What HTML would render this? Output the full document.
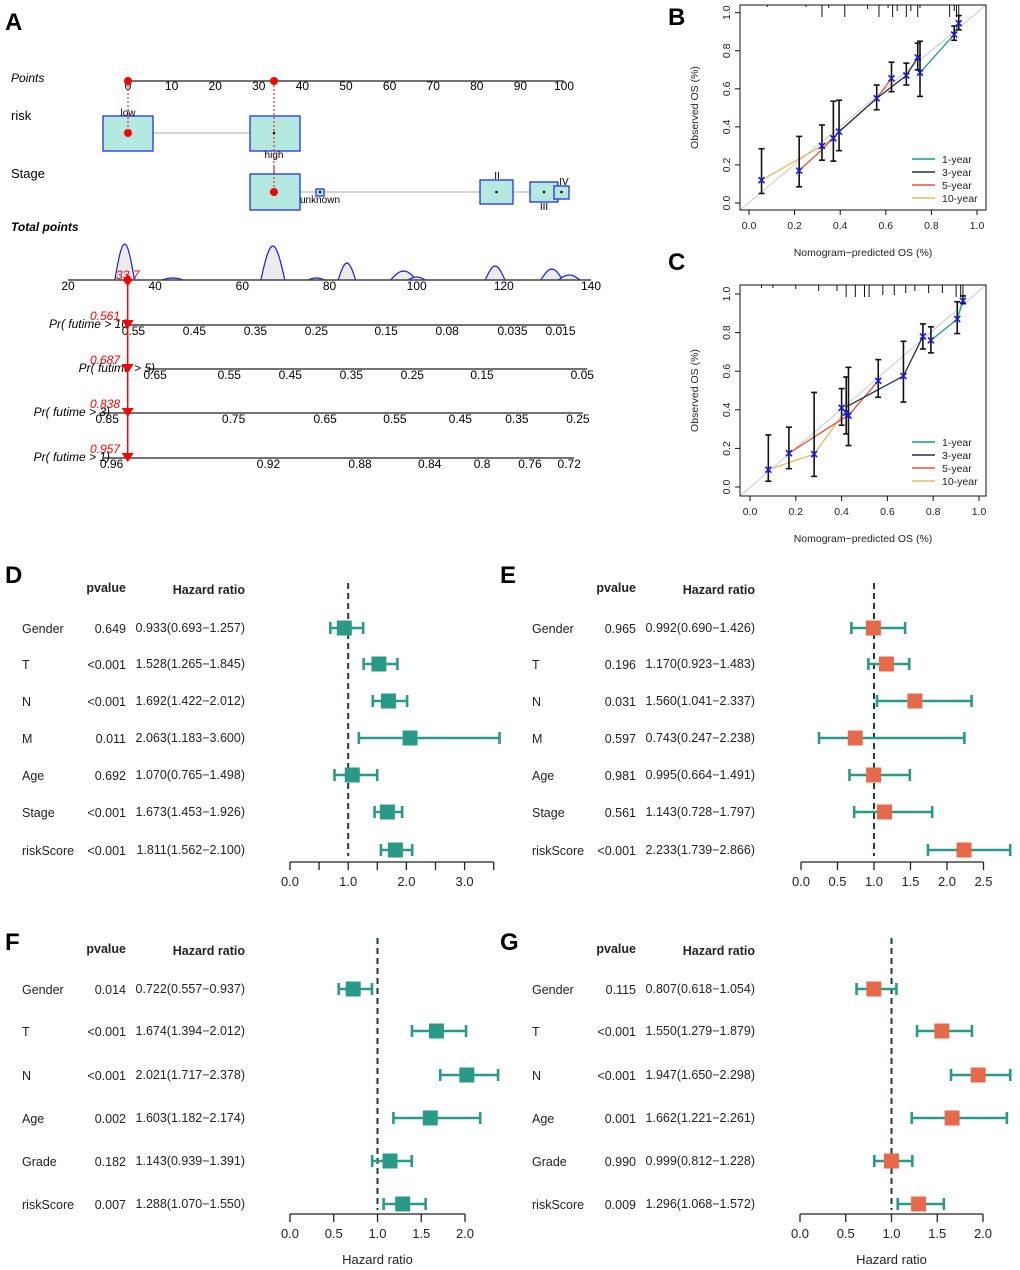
<!DOCTYPE html>
<html><head><meta charset="utf-8"><style>
html,body{margin:0;padding:0;background:#fff;}
svg{display:block;font-family:"Liberation Sans",Arial,sans-serif;}
</style></head><body>
<svg id="fig" width="1020" height="1270" viewBox="0 0 1020 1270" xmlns="http://www.w3.org/2000/svg">
<g font-weight="bold" font-size="24" fill="#000">
<text x="5" y="30">A</text>
<text x="668" y="25">B</text>
<text x="668" y="270">C</text>
<text x="5" y="583">D</text>
<text x="500" y="583">E</text>
<text x="5" y="950">F</text>
<text x="500" y="950">G</text>
</g>
<g id="nomo"></g>
<g id="calB"></g>
<g id="calC"></g>
<g id="fD"></g>
<g id="fE"></g>
<g id="fF"></g>
<g id="fG"></g>
</svg>
<script>
// ---------- Nomogram data ----------
const pointTicks=[0,10,20,30,40,50,60,70,80,90,100];
const totalTicks=[20,40,60,80,100,120,140];
const humpCenters=[33,44,67,77,84,97,100,118,131,135];
const humpHeights=[36,2,34,2,17,9,3,14,11,5];
const humpWidths=[4.5,5,5.5,4,4,6,4,4.5,5,5];
const pr10Labels=["0.55","0.45","0.35","0.25","0.15","0.08","0.035","0.015"];
const pr10Pts=[35,49,63,77,93,107,122,133];
const pr5Labels=["0.65","0.55","0.45","0.35","0.25","0.15","0.05"];
const pr5Pts=[40,57,71,85,99,115,138];
const pr3Labels=["0.85","0.75","0.65","0.55","0.45","0.35","0.25"];
const pr3Pts=[29,58,79,95,110,123,137];
const pr1Labels=["0.96","0.92","0.88","0.84","0.8","0.76","0.72"];
const pr1Pts=[30,66,87,103,115,126,135];
const predTotal=[33.7];
const predProbs=["0.561","0.687","0.838","0.957"];

// ---------- Calibration B ----------
const bX=[0.055,0.22,0.32,0.37,0.395,0.56,0.625,0.69,0.74,0.75,0.90,0.92];
const bY=[0.12,0.17,0.30,0.34,0.375,0.55,0.655,0.67,0.765,0.685,0.885,0.945];
const bLo=[0.05,0.085,0.225,0.22,0.275,0.49,0.585,0.62,0.70,0.56,0.855,0.91];
const bHi=[0.285,0.35,0.41,0.535,0.54,0.62,0.74,0.735,0.84,0.85,0.93,0.985];
const b10x=[0.055,0.32,0.37],b10y=[0.12,0.30,0.34];
const b5x=[0.22,0.32,0.395,0.56,0.625],b5y=[0.17,0.28,0.375,0.55,0.655];
const b3x=[0.395,0.56,0.69,0.74],b3y=[0.375,0.55,0.67,0.765];
const b1x=[0.75,0.90,0.92],b1y=[0.685,0.885,0.945];
const bRug=[0.08,0.25,0.32,0.35,0.42,0.52,0.57,0.61,0.63,0.65,0.69,0.71,0.74,0.75,0.88,0.9,0.91,0.92];
const bRugLen=[2,2,12,3,12,4,12,3,12,6,12,6,12,3,12,6,12,12];
// ---------- Calibration C ----------
const cX=[0.08,0.17,0.28,0.40,0.42,0.43,0.56,0.67,0.755,0.79,0.905,0.93];
const cY=[0.09,0.175,0.17,0.41,0.385,0.37,0.55,0.575,0.78,0.76,0.87,0.965];
const cLo=[0.03,0.095,0.055,0.32,0.275,0.215,0.465,0.44,0.715,0.695,0.795,0.95];
const cHi=[0.27,0.31,0.49,0.51,0.57,0.62,0.66,0.755,0.845,0.83,0.96,0.99];
const c10x=[0.08,0.28,0.42],c10y=[0.09,0.17,0.40];
const c5x=[0.17,0.40,0.43,0.56],c5y=[0.175,0.35,0.37,0.55];
const c3x=[0.42,0.67,0.755],c3y=[0.415,0.575,0.78];
const c1x=[0.79,0.905,0.93],c1y=[0.76,0.87,0.965];
const cRug=[0.05,0.1,0.2,0.3,0.38,0.42,0.46,0.5,0.52,0.58,0.63,0.68,0.72,0.78,0.84,0.9,0.92,0.93];
const cRugLen=[3,3,4,6,6,12,12,12,12,10,10,8,6,8,8,12,12,12];
const legendYears=["1-year","3-year","5-year","10-year"];

// ---------- Forest data ----------
const dVars=["Gender","T","N","M","Age","Stage","riskScore"];
const dP=["0.649","<0.001","<0.001","0.011","0.692","<0.001","<0.001"];
const dHR=[0.933,1.528,1.692,2.063,1.070,1.673,1.811];
const dLo=[0.693,1.265,1.422,1.183,0.765,1.453,1.562];
const dHi=[1.257,1.845,2.012,3.600,1.498,1.926,2.100];
const dTicks=[0,0.5,1,1.5,2,2.5,3,3.5];
const dTickLabels=["0.0","","1.0","","2.0","","3.0",""];
const eVars=["Gender","T","N","M","Age","Stage","riskScore"];
const eP=["0.965","0.196","0.031","0.597","0.981","0.561","<0.001"];
const eHR=[0.992,1.170,1.560,0.743,0.995,1.143,2.233];
const eLo=[0.690,0.923,1.041,0.247,0.664,0.728,1.739];
const eHi=[1.426,1.483,2.337,2.238,1.491,1.797,2.866];
const eTicks=[0,0.5,1,1.5,2,2.5];
const eTickLabels=["0.0","0.5","1.0","1.5","2.0","2.5"];
const fVars=["Gender","T","N","Age","Grade","riskScore"];
const fP=["0.014","<0.001","<0.001","0.002","0.182","0.007"];
const fHR=[0.722,1.674,2.021,1.603,1.143,1.288];
const fLo=[0.557,1.394,1.717,1.182,0.939,1.070];
const fHi=[0.937,2.012,2.378,2.174,1.391,1.550];
const fTicks=[0,0.5,1,1.5,2];
const fTickLabels=["0.0","0.5","1.0","1.5","2.0"];
const gVars=["Gender","T","N","Age","Grade","riskScore"];
const gP=["0.115","<0.001","<0.001","0.001","0.990","0.009"];
const gHR=[0.807,1.550,1.947,1.662,0.999,1.296];
const gLo=[0.618,1.279,1.650,1.221,0.812,1.068];
const gHi=[1.054,1.879,2.298,2.261,1.228,1.572];
const gTicks=[0,0.5,1,1.5,2];
const gTickLabels=["0.0","0.5","1.0","1.5","2.0"];

const NS="http://www.w3.org/2000/svg";
function mk(parent,tag,attrs,txt){const e=document.createElementNS(NS,tag);for(const k in attrs)e.setAttribute(k,attrs[k]);if(txt!==undefined)e.textContent=txt;parent.appendChild(e);return e;}
function fmt(v){return v.toFixed(3);}

// ===== Nomogram =====
(function(){
const g=document.getElementById('nomo');
const px=p=>128+p*4.36;
const tx=t=>68+(t-20)*(523/120);
let e;
e=mk(g,'text',{x:11,y:82,'font-size':12,'font-style':'italic'},'Points');


mk(g,'line',{x1:px(0),x2:px(100),y1:81,y2:81,stroke:'#444','stroke-width':1.5});
pointTicks.forEach(t=>{const l=mk(g,'text',{x:px(t),y:90,'font-size':12,'text-anchor':'middle'},String(t));

});
e=mk(g,'text',{x:11,y:120,'font-size':13},'risk');


mk(g,'line',{x1:153,x2:250,y1:133,y2:133,stroke:'#bbb','stroke-width':1.2});
[[103,116,50,35],[250,116,50,35]].forEach(b=>{const r=mk(g,'rect',{x:b[0],y:b[1],width:b[2],height:b[3],fill:'#b3e9df',stroke:'#2233dd','stroke-width':1.3});

});
mk(g,'text',{x:128,y:116,'font-size':10,'text-anchor':'middle'},'low');
mk(g,'text',{x:274,y:158,'font-size':10,'text-anchor':'middle'},'high');
mk(g,'circle',{cx:274,cy:133,r:1.3,fill:'#000'});
e=mk(g,'text',{x:11,y:178,'font-size':13},'Stage');


mk(g,'line',{x1:300,x2:533,y1:192,y2:192,stroke:'#bbb','stroke-width':1.2});
[[250,174,50,36],[316,189,8,7],[480,180,33,24],[530,182,28,20],[554,186,15,13]].forEach(b=>{const r=mk(g,'rect',{x:b[0],y:b[1],width:b[2],height:b[3],fill:'#b3e9df',stroke:'#2233dd','stroke-width':1.3});


mk(g,'circle',{cx:b[0]+b[2]/2,cy:192,r:1.3,fill:'#000'});});
mk(g,'text',{x:274,y:173,'font-size':10,'text-anchor':'middle'},'I');
mk(g,'text',{x:320,y:203,'font-size':10,'text-anchor':'middle'},'unknown');
mk(g,'text',{x:497,y:179,'font-size':10,'text-anchor':'middle'},'II');
mk(g,'text',{x:544,y:210,'font-size':10,'text-anchor':'middle'},'III');
mk(g,'text',{x:564,y:185,'font-size':10,'text-anchor':'middle'},'IV');
mk(g,'line',{x1:128,x2:128,y1:81,y2:133,stroke:'red','stroke-dasharray':'2,2'});
mk(g,'line',{x1:274,x2:274,y1:81,y2:192,stroke:'red','stroke-dasharray':'2,2'});
[[128,81],[274,81],[128,133],[274,192]].forEach(c=>mk(g,'circle',{cx:c[0],cy:c[1],r:4,fill:'red'}));
e=mk(g,'text',{x:11,y:231,'font-size':12,'font-style':'italic','font-weight':'bold'},'Total points');


humpCenters.forEach((c,i)=>{const x0=tx(c-humpWidths[i]/2),x1=tx(c+humpWidths[i]/2),h=humpHeights[i];
let d=`M${x0},280`;for(let k=0;k<=20;k++){const x=x0+(x1-x0)*k/20;d+=` L${x},${280-h*Math.sin(Math.PI*k/20)}`;}
const p=mk(g,'path',{d:d,fill:'#ececec',stroke:'#1a1aee','stroke-width':1.2});

});
mk(g,'line',{x1:tx(20),x2:tx(140),y1:280,y2:280,stroke:'#444','stroke-width':1.5});
totalTicks.forEach(t=>{const l=mk(g,'text',{x:tx(t),y:290,'font-size':12,'text-anchor':'middle'},String(t));

});
const rows=[[325,pr10Pts,pr10Labels,'Pr( futime > 10',128],[369,pr5Pts,pr5Labels,'Pr( futime > 5)',155],[413,pr3Pts,pr3Labels,'Pr( futime > 3)',110],[458,pr1Pts,pr1Labels,'Pr( futime > 1)',110]];
rows.forEach((r,i)=>{const y=r[0];
mk(g,'line',{x1:tx(r[1][0])-8,x2:tx(r[1][r[1].length-1])+5,y1:y,y2:y,stroke:'#444','stroke-width':1.5});
r[1].forEach((p,j)=>{const l=mk(g,'text',{x:tx(p),y:y+10,'font-size':12,'text-anchor':'middle'},r[2][j]);

});
const t=mk(g,'text',{x:r[4],y:y+3,'font-size':12,'font-style':'italic','text-anchor':'end'},r[3]);


mk(g,'text',{x:120,y:y-5,'font-size':12,'font-style':'italic',fill:'red','text-anchor':'end'},predProbs[i]);
const xx=tx(predTotal[0]);
mk(g,'path',{d:`M${xx-6},${y-5} L${xx+6},${y-5} L${xx},${y+4} Z`,fill:'red'});
});
const xx=tx(predTotal[0]);
mk(g,'line',{x1:xx,x2:xx,y1:280,y2:458,stroke:'red','stroke-width':1.5});
mk(g,'path',{d:`M${xx},274 L${xx+5},280 L${xx},286 L${xx-5},280Z`,fill:'red'});
mk(g,'text',{x:xx,y:279,'font-size':12,'font-style':'italic',fill:'red','text-anchor':'middle'},predTotal[0].toFixed(1));
})();

// ===== Calibration =====
function calib(id,box,xs,ys,lo,hi,lines,rug,rugLen,legY){
const g=document.getElementById(id);
const [L,T,R,B,x0,x1,y0,y1]=box;
const sx=v=>x0+(x1-x0)*v, sy=v=>y0+(y1-y0)*v;
mk(g,'line',{x1:L,y1:B,x2:R,y2:T,stroke:'#ccc','stroke-width':1});
const cols=['#1a9c83','#1f3340','#e8533a','#e8b860'];
lines.forEach((ln,k)=>{const pts=ln[0].map((v,i)=>sx(v)+','+sy(ln[1][i])).join(' ');
const p=mk(g,'polyline',{points:pts,fill:'none',stroke:cols[3-k],'stroke-width':1.3});

});
xs.forEach((v,i)=>{const x=sx(v);
mk(g,'line',{x1:x,x2:x,y1:sy(lo[i]),y2:sy(hi[i]),stroke:'#111','stroke-width':1.6});
mk(g,'line',{x1:x-3,x2:x+3,y1:sy(lo[i]),y2:sy(lo[i]),stroke:'#111','stroke-width':1.6});
mk(g,'line',{x1:x-3,x2:x+3,y1:sy(hi[i]),y2:sy(hi[i]),stroke:'#111','stroke-width':1.6});
const y=sy(ys[i]);
const m=mk(g,'path',{d:`M${x-3},${y-3}L${x+3},${y+3}M${x-3},${y+3}L${x+3},${y-3}`,stroke:'#1a1aee','stroke-width':1.6});

});
rug.forEach((v,i)=>mk(g,'line',{x1:sx(v),x2:sx(v),y1:T,y2:T+rugLen[i],stroke:'#111','stroke-width':1}));
mk(g,'rect',{x:L,y:T,width:R-L,height:B-T,fill:'none',stroke:'#111','stroke-width':1});
[0,0.2,0.4,0.6,0.8,1].forEach(t=>{
mk(g,'line',{x1:sx(t),x2:sx(t),y1:B,y2:B+5,stroke:'#111'});
mk(g,'text',{x:sx(t),y:B+19,'font-size':10.5,'text-anchor':'middle',fill:'#222'},t.toFixed(1));
mk(g,'line',{x1:L,x2:L-5,y1:sy(t),y2:sy(t),stroke:'#111'});
mk(g,'text',{x:L-10,y:sy(t),'font-size':10.5,'text-anchor':'middle',fill:'#222',transform:`rotate(-90 ${L-10} ${sy(t)})`},t.toFixed(1));
});
const xt=mk(g,'text',{x:(L+R)/2,y:B+46,'font-size':10.5,'text-anchor':'middle',fill:'#222'},'Nomogram\u2212predicted OS (%)');


const yc=(T+B)/2;
const yt=mk(g,'text',{x:698,y:yc,'font-size':10.5,'text-anchor':'middle',fill:'#222',transform:`rotate(-90 698 ${yc})`},'Observed OS (%)');


legendYears.forEach((s,i)=>{const y=legY+i*13;
mk(g,'line',{x1:912,x2:935,y1:y,y2:y,stroke:cols[i],'stroke-width':1.5});
const t=mk(g,'text',{x:942,y:y+4,'font-size':10.5,fill:'#222'},s);

});
}
calib('calB',[740,5,986,210,749,977,203,12.7],bX,bY,bLo,bHi,[[b10x,b10y],[b5x,b5y],[b3x,b3y],[b1x,b1y]],bRug,bRugLen,159);
calib('calC',[740,285,986,496,750,979,487,294],cX,cY,cLo,cHi,[[c10x,c10y],[c5x,c5y],[c3x,c3y],[c1x,c1y]],cRug,cRugLen,442);

// ===== Forest plots =====
function forest(id,ox,rowsY,vars,P,HR,LO,HI,ticks,tickLabels,zero,unit,axisY,dashTop,boxCol,title,capR){
const g=document.getElementById(id);
const sx=v=>zero+v*unit;
const hy=rowsY[0]-36;
mk(g,'text',{x:ox+126,y:hy,'font-size':12.5,'font-weight':'bold','text-anchor':'end',fill:'#222'},'pvalue');
mk(g,'text',{x:ox+245,y:hy+2,'font-size':12.5,'font-weight':'bold','text-anchor':'end',fill:'#222'},'Hazard ratio');
mk(g,'line',{x1:sx(1),x2:sx(1),y1:dashTop,y2:rowsY[rowsY.length-1]+6,stroke:'#1c3a4a','stroke-width':2,'stroke-dasharray':'6,4'});
vars.forEach((v,i)=>{const y=rowsY[i];
const a=mk(g,'text',{x:ox+22,y:y+5,'font-size':12.5,fill:'#222'},v);


mk(g,'text',{x:ox+126,y:y+5,'font-size':12.5,'text-anchor':'end',fill:'#222'},P[i]);
mk(g,'text',{x:ox+245,y:y+4,'font-size':12.5,'text-anchor':'end',fill:'#222'},fmt(HR[i])+'('+fmt(LO[i])+'\u2212'+fmt(HI[i])+')');
const ci=mk(g,'path',{d:`M${sx(LO[i])},${y}H${sx(HI[i])}M${sx(LO[i])},${y-capR}V${y+capR}M${sx(HI[i])},${y-capR}V${y+capR}`,stroke:'#2a9a88','stroke-width':2.6,fill:'none'});


const b=mk(g,'rect',{x:sx(HR[i])-7.5,y:y-7.5,width:15,height:15,fill:boxCol});


});
mk(g,'line',{x1:sx(ticks[0]),x2:sx(ticks[ticks.length-1]),y1:axisY,y2:axisY,stroke:'#222','stroke-width':1.3});
ticks.forEach((t,i)=>{mk(g,'line',{x1:sx(t),x2:sx(t),y1:axisY,y2:axisY+8,stroke:'#222','stroke-width':1.3});
const l=mk(g,'text',{x:sx(t),y:axisY+24,'font-size':13,'text-anchor':'middle',fill:'#222'},tickLabels[i]);

});
if(title){const t=mk(g,'text',{x:(sx(ticks[0])+sx(ticks[ticks.length-1]))/2,y:axisY+50,'font-size':13,'text-anchor':'middle',fill:'#222'},'Hazard ratio');

}
}
const rowsDE=[628,664,701,738,775,812,850];
const rowsFG=[989,1031,1075,1118,1161,1204];
forest('fD',0,rowsDE,dVars,dP,dHR,dLo,dHi,dTicks,dTickLabels,290,58.2,862,583,'#2a9a88',false,6);
forest('fE',510,rowsDE,eVars,eP,eHR,eLo,eHi,eTicks,eTickLabels,801,73,862,583,'#e8694a',false,6);
forest('fF',0,rowsFG,fVars,fP,fHR,fLo,fHi,fTicks,fTickLabels,290,87.5,1214,938,'#2a9a88',true,6);
forest('fG',510,rowsFG,gVars,gP,gHR,gLo,gHi,gTicks,gTickLabels,800,91.5,1214,938,'#e8694a',true,6);
</script>
</body></html>
